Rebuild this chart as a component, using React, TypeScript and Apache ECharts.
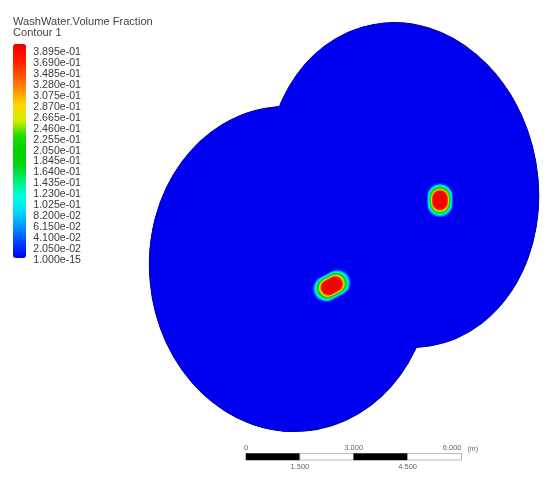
import React, { useEffect, useRef } from "react";
import * as echarts from "echarts";

const legendTitle = "WashWater.Volume Fraction\nContour 1";
const legendLabels = ["1.000e-15","2.050e-02","4.100e-02","6.150e-02","8.200e-02","1.025e-01","1.230e-01","1.435e-01","1.640e-01","1.845e-01","2.050e-01","2.255e-01","2.460e-01","2.665e-01","2.870e-01","3.075e-01","3.280e-01","3.485e-01","3.690e-01","3.895e-01"];
const rampColors = ["#0000f0","#0040ff","#0090ff","#00d8ff","#00ffe0","#00f080","#00d810","#00d000","#20dc00","#d0f000","#ffd800","#ff9000","#ff5000","#ff1800","#f00000"];
// domain disks: cx, cy, rx, ry, rotation (deg); lengths in metres
const disks = [
  [8.09, 5.79, 3.93, 4.53, 5],
  [11.2, 8.12, 3.76, 4.54, 10],
];
// hot spots: cx, cy, half length, half width, rotation (deg)
const spots = [
  [9.23, 5.32, 0.56, 0.37, 28],
  [12.24, 7.70, 0.37, 0.48, 0],
];
// contour levels: relative size, volume fraction
const levels = [
  [1, 0.02], [0.93, 0.07], [0.85, 0.12], [0.78, 0.17], [0.72, 0.21], [0.67, 0.25],
  [0.63, 0.29], [0.59, 0.33], [0.56, 0.36], [0.5, 0.385],
];
const scaleSegments = [
  [0, 1.5, 1],
  [1.5, 3, 0],
  [3, 4.5, 1],
  [4.5, 6, 0],
];
const scaleTopTicks = { 0: "0", 3: "3.000", 6: "6.000" } as Record<number, string>;
const scaleBottomTicks = { 1.5: "1.500", 4.5: "4.500" } as Record<number, string>;

const font = "Liberation Sans";

export default function App() {
  const ref = useRef<HTMLDivElement>(null);
  useEffect(() => {
    const chart = echarts.init(ref.current!, undefined, { renderer: "svg" });
    const spotData: number[][] = [];
    spots.forEach((s) =>
      levels.forEach(([k, v]) => spotData.push([s[0], s[1], s[2] * k, s[3] * k, s[4], v]))
    );
    const spotItem = (params: any, api: any) => {
      const c = api.coord([api.value(0), api.value(1)]);
      const sz = api.size([api.value(2), api.value(3)]);
      return {
        type: "rect",
        x: c[0],
        y: c[1],
        rotation: (api.value(4) * Math.PI) / 180,
        shape: { x: -sz[0], y: -sz[1], width: 2 * sz[0], height: 2 * sz[1], r: Math.min(sz[0], sz[1]) },
        style: { fill: api.visual("color") },
      };
    };
    const diskItem = (style: any) => (params: any, api: any) => {
      const c = api.coord([api.value(0), api.value(1)]);
      const sz = api.size([api.value(2), api.value(3)]);
      return {
        type: "ellipse",
        x: c[0],
        y: c[1],
        rotation: (api.value(4) * Math.PI) / 180,
        shape: { cx: 0, cy: 0, rx: sz[0], ry: sz[1] },
        style,
      };
    };
    chart.setOption({
      animation: false,
      backgroundColor: "#ffffff",
      title: {
        text: legendTitle,
        left: 13,
        top: 15,
        padding: 0,
        textStyle: { fontFamily: font, fontSize: 11.1, fontWeight: "normal", color: "#444", lineHeight: 11.5 },
      },
      grid: [
        { left: 0, top: 0, width: 550, height: 477 },
        { left: 81, top: 51, width: 1, height: 208 },
        { left: 246, top: 453.5, width: 215.5, height: 6.5 },
      ],
      xAxis: [
        { gridIndex: 0, type: "value", min: 0, max: 15.3, show: false },
        { gridIndex: 1, type: "value", min: 0, max: 1, show: false },
        {
          gridIndex: 2, type: "value", min: 0, max: 6, interval: 3, position: "top",
          axisLine: { show: false }, axisTick: { show: false }, splitLine: { show: false },
          name: "(m)", nameLocation: "end", nameGap: 6,
          nameTextStyle: { fontFamily: font, fontSize: 7, color: "#666", verticalAlign: "bottom", padding: [0, 0, 8, 0] },
          axisLabel: {
            fontFamily: font, fontSize: 7.5, color: "#666", margin: 2, alignMaxLabel: "right",
            formatter: (v: number) => scaleTopTicks[v] ?? "",
          },
        },
        {
          gridIndex: 2, type: "value", min: 0, max: 6, interval: 1.5, position: "bottom",
          axisLine: { show: false }, axisTick: { show: false }, splitLine: { show: false },
          axisLabel: {
            fontFamily: font, fontSize: 7.5, color: "#666", margin: 2,
            showMinLabel: false, showMaxLabel: false,
            formatter: (v: number) => scaleBottomTicks[v] ?? "",
          },
        },
      ],
      yAxis: [
        { gridIndex: 0, type: "value", min: 0, max: 13.27, show: false },
        {
          gridIndex: 1, type: "category", data: legendLabels, boundaryGap: false, position: "left",
          axisLine: { show: false }, axisTick: { show: false }, splitLine: { show: false },
          axisLabel: { interval: 0, margin: 0, fontFamily: font, fontSize: 10.6, color: "#3a3a3a" },
        },
        { gridIndex: 2, type: "value", min: 0, max: 1, show: false },
      ],
      visualMap: {
        type: "continuous",
        min: 0,
        max: 0.3895,
        dimension: 5,
        seriesIndex: [2],
        left: 13,
        top: 44,
        padding: 0,
        itemWidth: 13,
        itemHeight: 214,
        calculable: false,
        hoverLink: false,
        inRange: { color: rampColors },
      },
      series: [
        {
          type: "custom", xAxisIndex: 0, yAxisIndex: 0, clip: false, silent: true, z: 1,
          data: disks,
          renderItem: diskItem({ fill: "#000080", stroke: "#000060", lineWidth: 1 }),
        },
        {
          type: "custom", xAxisIndex: 0, yAxisIndex: 0, clip: false, silent: true, z: 2,
          data: disks,
          renderItem: diskItem({ fill: "#0000f0" }),
        },
        {
          type: "custom", xAxisIndex: 0, yAxisIndex: 0, clip: false, silent: true, z: 3,
          data: spotData,
          renderItem: spotItem,
        },
        {
          type: "custom", xAxisIndex: 2, yAxisIndex: 2, clip: false, silent: true,
          data: scaleSegments,
          encode: { x: [0, 1] },
          renderItem: (p: any, api: any) => {
            const a = api.coord([api.value(0), 1]);
            const b = api.coord([api.value(1), 0]);
            return {
              type: "rect",
              shape: { x: a[0], y: a[1], width: b[0] - a[0], height: b[1] - a[1] },
              style: api.value(2)
                ? { fill: "#000000", stroke: "#000000", lineWidth: 0.5 }
                : { fill: "#ffffff", stroke: "#aaaaaa", lineWidth: 0.8 },
            };
          },
        },
      ],
    });
    return () => chart.dispose();
  }, []);
  return (
    <div
      ref={ref}
      style={{ position: "absolute", left: 0, top: 0, width: 550, height: 477, filter: "blur(0.6px)" }}
    />
  );
}
